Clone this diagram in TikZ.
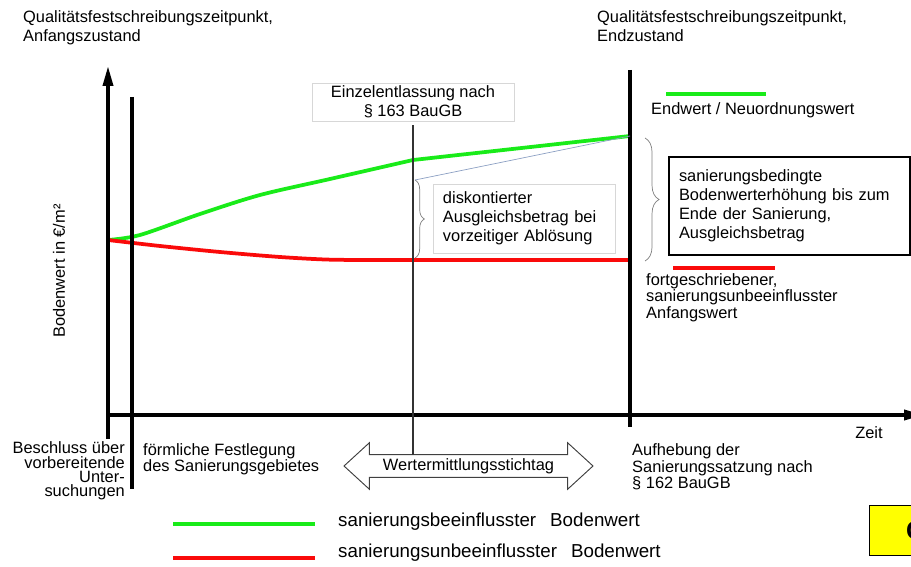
\documentclass[tikz,border=0pt]{standalone}
\usepackage{fontspec}
\setmainfont{Liberation Sans}
\usetikzlibrary{arrows.meta,calc,decorations.pathreplacing,shapes.arrows}

\definecolor{kgruen}{RGB}{25,235,25}
\definecolor{krot}{RGB}{250,10,10}
\definecolor{hilfsblau}{RGB}{140,160,195}
\definecolor{rahmengrau}{RGB}{215,215,215}
\definecolor{gelb}{RGB}{255,255,0}

\begin{document}
\begin{tikzpicture}[x=0.03cm,y=-0.03cm,
    txt/.style={font=\fontsize{14}{16.2}\selectfont,inner sep=0pt,align=left},
    eng/.style={font=\fontsize{14}{12.3}\selectfont,inner sep=0pt},
    leg/.style={font=\fontsize{16}{18}\selectfont,inner sep=0pt},
    achse/.style={line width=3pt},
    gruen/.style={kgruen,line width=3.2pt},
    rot/.style={krot,line width=3.2pt},
    klammer/.style={gray,line width=0.6pt,decorate}]
  \useasboundingbox (0,0) rectangle (911,567);
  \coordinate (O) at (108,415);
  \coordinate (ytop) at (108,66);
  \coordinate (ybot) at (108,439);
  \coordinate (xend) at (924,415);
  \coordinate (gend) at (630,136);
  \coordinate (rend) at (630,260);
  \coordinate (vf1) at (132,97);
  \coordinate (vf2) at (132,489);
  \coordinate (ve1) at (630,70);
  \coordinate (ve2) at (630,427);

  % Kurven
  \draw[gruen] plot[smooth] coordinates {(108,240) (140,235) (200,214) (260,195) (330,179) (413,160)} -- (gend);
  \draw[rot] plot[smooth] coordinates {(108,240) (160,246) (220,252) (280,257) (325,259.5) (360,260)} -- (rend);

  % Achsen
  \draw[achse,-{Triangle[length=17pt,width=8.5pt]}] (ybot) -- (ytop);
  \draw[achse,-{Triangle[length=17pt,width=8.5pt]}] (O) -- (xend);
  \draw[line width=2.6pt] (vf1) -- (vf2);
  \draw[line width=2.6pt] (ve1) -- (ve2);

  \node[txt,anchor=north west] (qanf) at (23,10) {Qualitätsfestschreibungszeitpunkt,\\Anfangszustand};
  \node[txt,anchor=north west] (qend) at (597,10) {Qualitätsfestschreibungszeitpunkt,\\Endzustand};
  \node[txt,rotate=90] (ylab) at (59,271) {Bodenwert in €/m²};
  \node[txt] (zeit) at (869,433) {Zeit};

  \node[txt,draw=rahmengrau,align=center,fill=white,minimum width=6.06cm,minimum height=1.14cm] (einzel) at (413,102) {Einzelentlassung nach\\§ 163 BauGB};
  \node[txt,double arrow,draw=black!75,line width=0.8pt,fill=white,double arrow head extend=0.36cm,double arrow tip angle=85,minimum height=7.47cm,inner ysep=2.75pt] (stichtag) at (468.5,466) {Wertermittlungsstichtag};
  \coordinate (stich) at (413,455);
  \draw[line width=1pt,black!80,shorten <=1.2mm] (einzel.south) -- (stich);

  \node[txt,draw=rahmengrau,text width=4.86cm,inner xsep=0.3cm,minimum height=2.07cm] (disk) at (524,218.5) {diskontierter\\Ausgleichsbetrag bei\\vorzeitiger Ablösung};
  \coordinate (k1o) at (415,180);
  \coordinate (k1u) at (415,258);
  \draw[klammer,decoration={brace,amplitude=8pt}] (k1o) -- (k1u);
  \draw[hilfsblau,line width=0.6pt] (k1o) -- (gend);

  \node[txt,draw,line width=0.9pt,text width=6.63cm,inner xsep=0.3cm,minimum height=2.94cm] (bedingt) at (789.5,206) {sanierungsbedingte\\Bodenwerterhöhung bis zum\\Ende der Sanierung,\\Ausgleichsbetrag};
  \coordinate (k2o) at (645,138);
  \coordinate (k2u) at (645,261);
  \draw[klammer,decoration={brace,amplitude=12pt}] (k2o) -- (k2u);

  \coordinate (lg1) at (666,94);
  \coordinate (lg2) at (766,94);
  \draw[gruen,line width=2.8pt] (lg1) -- (lg2);
  \node[txt,anchor=west] (endw) at (651,110) {Endwert / Neuordnungswert};
  \coordinate (lr1) at (673,268);
  \coordinate (lr2) at (775,268);
  \draw[rot,line width=2.8pt] (lr1) -- (lr2);
  \node[eng,align=left,anchor=west] (fortg) at (646,297.5) {fortgeschriebener,\\sanierungsunbeeinflusster\\Anfangswert};

  \node[eng,align=right,anchor=east] (beschl) at (125,471) {Beschluss über\\vorbereitende\\Unter-\\suchungen};
  \node[eng,align=left,anchor=west] (foerml) at (143,459.5) {förmliche Festlegung\\des Sanierungsgebietes};
  \node[eng,align=left,anchor=west] (aufh) at (632,467) {Aufhebung der\\Sanierungssatzung nach\\§ 162 BauGB};

  % Legende
  \coordinate (lb1) at (173,524);
  \coordinate (lb2) at (315,524);
  \coordinate (lb3) at (173,558);
  \coordinate (lb4) at (315,558);
  \draw[gruen] (lb1) -- (lb2);
  \node[leg,anchor=west] (leggr) at (338,522) {sanierungsbeeinflusster\hspace{0.75em}Bodenwert};
  \draw[rot] (lb3) -- (lb4);
  \node[leg,anchor=west] (legrt) at (338,553) {sanierungsunbeeinflusster\hspace{0.75em}Bodenwert};

  \node[draw,fill=gelb,line width=1pt,anchor=north west,minimum width=2cm,minimum height=1.5cm] (logo) at (869,505) {};
  \node[font=\bfseries\fontsize{22}{22}\selectfont,inner sep=0pt,anchor=west] (logotxt) at (906,531) {C};
\end{tikzpicture}
\end{document}
